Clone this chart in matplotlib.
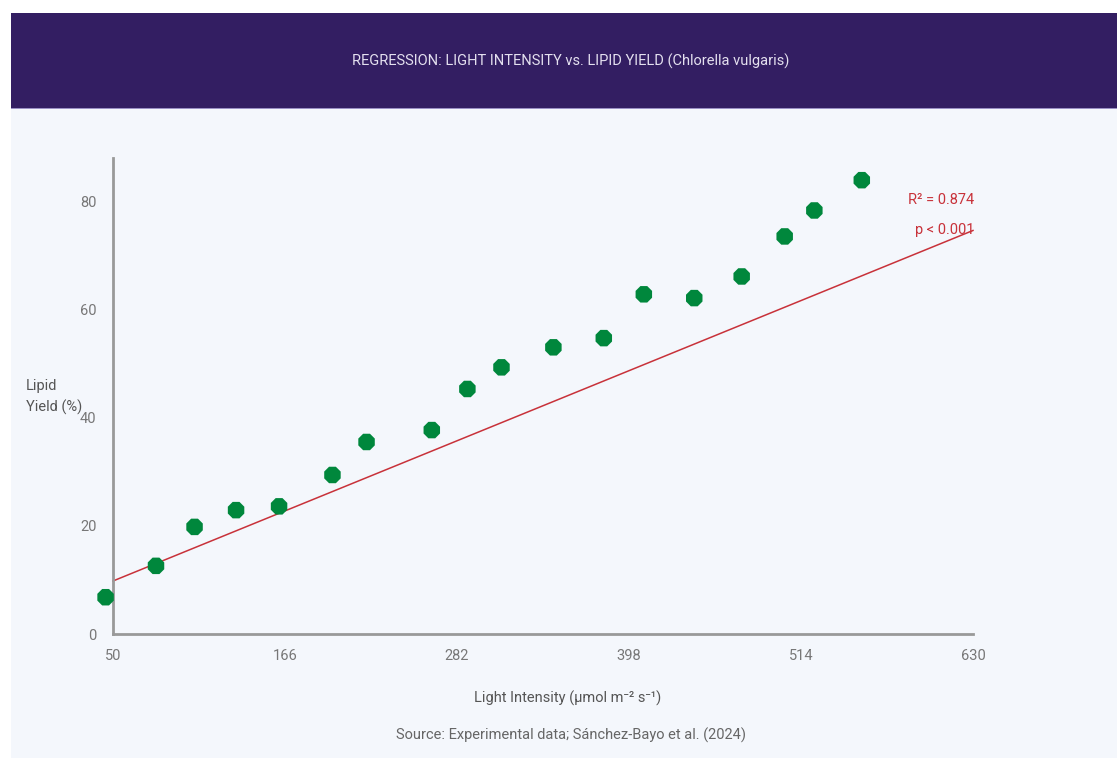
import matplotlib

matplotlib.use("Agg")
import matplotlib.pyplot as plt  # noqa: E402
from matplotlib.patches import Rectangle  # noqa: E402

# light intensity (umol m-2 s-1) vs lipid yield (%)
LIGHT = [45, 79, 105, 133, 162, 198, 221, 265, 289, 312, 347, 381, 408, 442, 474, 503, 523, 555]
LIPID = [6.8, 12.6, 19.8, 22.9, 23.6, 29.4, 35.5, 37.7, 45.3, 49.3, 53.0, 54.7, 62.8, 62.1, 66.1,
         73.5, 78.3, 83.9]
# regression line drawn across the full x range
FIT_X = [50, 630]
FIT_Y = [9.8, 74.6]
R2 = 0.874
X_TICKS = [50, 166, 282, 398, 514, 630]
Y_TICKS = [0, 20, 40, 60, 80]

W, H = 1117, 758
plt.rcParams["font.family"] = ["Roboto", "DejaVu Sans"]

fig = plt.figure(figsize=(W / 100, H / 100), dpi=100)
fig.patch.set_facecolor("white")

# page background + header band
fig.add_artist(Rectangle((11 / W, 0), 1, 1 - 108 / H, transform=fig.transFigure,
                         facecolor="#f4f7fc", edgecolor="none", zorder=0))
fig.add_artist(Rectangle((11 / W, 1 - 108 / H), 1, 95 / H, transform=fig.transFigure,
                         facecolor="#331e62", edgecolor="none", zorder=0))
fig.add_artist(Rectangle((11 / W, 1 - 109 / H), 1, 1.2 / H, transform=fig.transFigure,
                         facecolor="#9a90c4", edgecolor="none", zorder=1))
fig.text(571 / W, 1 - 61 / H, "REGRESSION: LIGHT INTENSITY vs. LIPID YIELD (Chlorella vulgaris)",
         ha="center", va="center", color="#e4e0ef", fontsize=10.5)

ax = fig.add_axes([113 / W, 1 - 634 / H, 860 / W, 476 / H])
ax.set_facecolor("none")
ax.set_xlim(50, 630)
ax.set_ylim(0, 88)
for side in ("top", "right"):
    ax.spines[side].set_visible(False)
for side in ("left", "bottom"):
    ax.spines[side].set_color("#999999")
    ax.spines[side].set_linewidth(2)
ax.set_xticks(X_TICKS)
ax.set_yticks(Y_TICKS)
ax.tick_params(length=0, labelsize=10.5, labelcolor="#777777")
ax.tick_params(axis="x", pad=11)
ax.tick_params(axis="y", pad=12)

ax.plot(FIT_X, FIT_Y, color="#c8323a", lw=1.1, zorder=2, clip_on=False)
ax.scatter(LIGHT, LIPID, s=165, marker="8", color="#00873c", zorder=3, clip_on=False,
           edgecolors="none")

ax.text(631, 80.2, f"R² = {R2}", ha="right", va="center", color="#c8323a", fontsize=10.5)
ax.text(631, 74.7, "p < 0.001", ha="right", va="center", color="#c8323a", fontsize=10.5)

fig.text(26 / W, 1 - 397 / H, "Lipid\nYield (%)", ha="left", va="center", color="#555555",
         fontsize=10.5, linespacing=1.6)
fig.text(568 / W, 1 - 698 / H, "Light Intensity (μmol m⁻² s⁻¹)", ha="center", va="center",
         color="#555555", fontsize=10.5)
fig.text(571 / W, 1 - 735 / H, "Source: Experimental data; Sánchez-Bayo et al. (2024)",
         ha="center", va="center", color="#666666", fontsize=10.5)

fig.savefig("out.png", dpi=100)
